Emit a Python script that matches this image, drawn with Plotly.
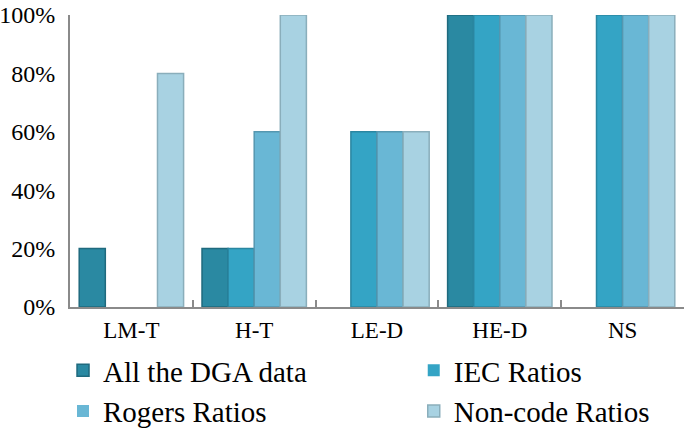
import plotly.graph_objects as go

categories = ["LM-T", "H-T", "LE-D", "HE-D", "NS"]
series_names = ["All the DGA data", "IEC Ratios", "Rogers Ratios", "Non-code Ratios"]
all_dga = [20, 20, 0, 100, 0]
iec = [0, 20, 60, 100, 100]
rogers = [0, 60, 60, 100, 100]
noncode = [80, 100, 60, 100, 100]
y_ticks = [0, 20, 40, 60, 80, 100]
y_tick_labels = ["0%", "20%", "40%", "60%", "80%", "100%"]

values = [all_dga, iec, rogers, noncode]
colors = ["#2a89a2", "#34a4c5", "#69b7d5", "#a8d2e2"]
edges = ["#1f6a7e", "#2a86a1", "#5597b0", "#8aaebb"]
legend_ids = ["legend", "legend2", "legend", "legend2"]

fig = go.Figure()
for name, vals, c, e, lg in zip(series_names, values, colors, edges, legend_ids):
    fig.add_trace(go.Bar(
        x=categories, y=vals, name=name, legend=lg, legendgroup=name,
        marker=dict(color=c, line=dict(color=e, width=[1.5 if v > 0 else 0 for v in vals]))))

font = "Liberation Serif, Times New Roman, serif"
leg_common = dict(orientation="v", xref="container", yref="container",
                  xanchor="left", yanchor="top", y=0.207,
                  font=dict(family=font, size=29, color="black"),
                  traceorder="normal", tracegroupgap=0, itemclick=False,
                  bgcolor="rgba(0,0,0,0)")
fig.update_layout(
    width=685, height=435,
    margin=dict(l=70, r=1, t=15, b=128, autoexpand=False),
    paper_bgcolor="white", plot_bgcolor="white",
    barmode="group", bargap=0.15, bargroupgap=0,
    font=dict(family=font, size=20, color="black"),
    legend=dict(x=0.092, **leg_common),
    legend2=dict(x=0.604, **leg_common),
    showlegend=True,
)
fig.update_xaxes(showline=True, linecolor="#8a8a8a", linewidth=2,
                 ticks="inside", ticklen=7, tickcolor="#8a8a8a", tickwidth=1.5,
                 tickson="boundaries", showgrid=False, ticklabelstandoff=1,
                 tickfont=dict(family=font, size=23))
fig.update_yaxes(range=[0, 100], tickvals=y_ticks, ticktext=y_tick_labels,
                 showline=True, linecolor="#8a8a8a", linewidth=2,
                 ticks="outside", ticklen=8, tickcolor="rgba(0,0,0,0)",
                 ticklabeloverflow="allow",
                 showgrid=False, zeroline=False,
                 tickfont=dict(family=font, size=24))

fig.write_html("out.html", config={"displayModeBar": False},
               post_script="document.body.style.margin='0';")
